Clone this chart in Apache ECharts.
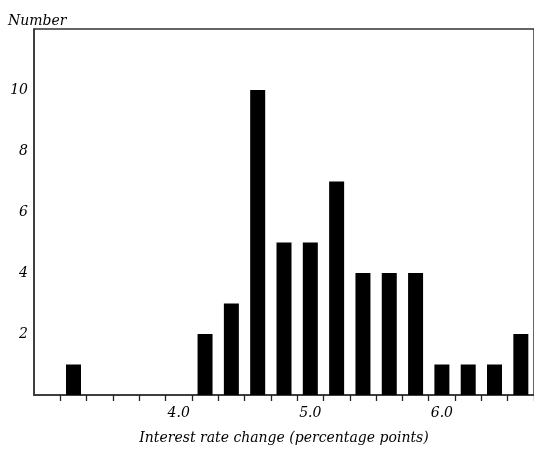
<!DOCTYPE html>
<html>
<head>
<meta charset="utf-8">
<script src="https://cdn.jsdelivr.net/npm/echarts@6/dist/echarts.min.js"></script>
<style>
  html, body { margin: 0; padding: 0; background: #fff; }
  #chart { width: 534px; height: 450px; }
</style>
</head>
<body>
<div id="chart"></div>
<script>
// bins of 0.2 percentage points, labelled by their centre
const categories = ['3.0', '3.2', '3.4', '3.6', '3.8', '4.0', '4.2', '4.4', '4.6', '4.8',
  '5.0', '5.2', '5.4', '5.6', '5.8', '6.0', '6.2', '6.4', '6.6']
const counts = [0, 1, 0, 0, 0, 0, 2, 3, 10, 5, 5, 7, 4, 4, 4, 1, 1, 1, 2]
const shownLabels = ['4.0', '5.0', '6.0']
const yTicks = [2, 4, 6, 8, 10]

const font = '"DejaVu Serif"'
const chart = echarts.init(document.getElementById('chart'))

chart.setOption({
  animation: false,
  title: {
    text: 'Number',
    left: 3,
    top: 9,
    textStyle: { fontFamily: font, fontStyle: 'italic', fontWeight: 'normal', fontSize: 14, color: '#000' },
  },
  grid: {
    left: 34,
    right: -5,
    top: 29,
    bottom: 51,
    show: true,
    borderColor: '#333',
    borderWidth: 1.5,
  },
  xAxis: {
    type: 'category',
    data: categories,
    name: 'Interest rate change (percentage points)',
    nameLocation: 'middle',
    nameGap: 36,
    nameTextStyle: { fontFamily: font, fontStyle: 'italic', fontSize: 14, color: '#000' },
    axisLine: { lineStyle: { color: '#333', width: 1.5 } },
    axisTick: {
      show: true,
      length: 6,
      interval: (idx) => idx > 0,
      lineStyle: { color: '#222', width: 1.3 },
    },
    axisLabel: {
      interval: 0,
      margin: 11,
      fontFamily: font,
      fontStyle: 'italic',
      fontSize: 14,
      color: '#000',
      formatter: (v) => (shownLabels.includes(v) ? v : ''),
    },
  },
  yAxis: {
    type: 'value',
    min: 0,
    max: 12,
    interval: 2,
    splitLine: { show: false },
    axisTick: { show: false },
    axisLine: { show: true, lineStyle: { color: '#333', width: 1.5 } },
    axisLabel: {
      margin: 6,
      fontFamily: font,
      fontStyle: 'italic',
      fontSize: 14,
      color: '#000',
      formatter: (v) => (yTicks.includes(v) ? String(v) : ''),
    },
  },
  series: [
    {
      type: 'bar',
      data: counts,
      barWidth: 15,
      itemStyle: { color: '#000' },
    },
  ],
})
</script>
</body>
</html>
